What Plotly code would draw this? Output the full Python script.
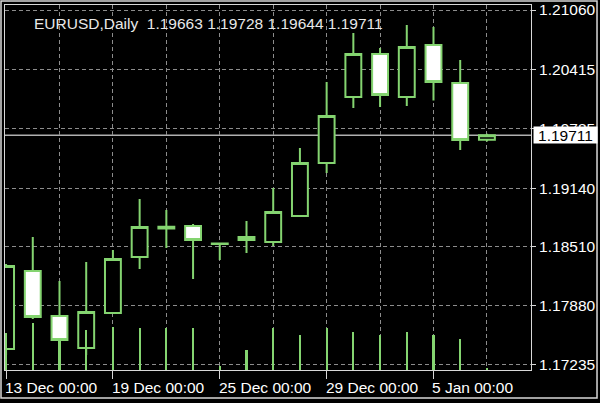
import plotly.graph_objects as go

# ---- data ----
symbol = "EURUSD,Daily"
dates = ["13 Dec", "14 Dec", "15 Dec", "18 Dec", "19 Dec", "20 Dec", "21 Dec", "22 Dec",
         "25 Dec", "26 Dec", "27 Dec", "28 Dec", "29 Dec", "2 Jan", "3 Jan", "4 Jan",
         "5 Jan", "8 Jan", "9 Jan"]
opens = [1.17407, 1.18248, 1.17763, 1.17418, 1.17795, 1.18399, 1.18705, 1.18733,
         1.18545, 1.18582, 1.18560, 1.18840, 1.19411, 1.20123, 1.20586, 1.20123,
         1.20683, 1.20273, 1.19663]
highs = [1.18323, 1.18614, 1.18140, 1.18345, 1.18474, 1.19024, 1.18905, 1.18754,
         1.18556, 1.18786, 1.19142, 1.19573, 1.20284, 1.20812, 1.20651, 1.20898,
         1.20877, 1.20521, 1.19728]
lows = [1.17343, 1.17731, 1.17397, 1.17343, 1.17784, 1.18269, 1.18496, 1.18162,
        1.18366, 1.18442, 1.18517, 1.18830, 1.19304, 1.20004, 1.20015, 1.20026,
        1.20085, 1.19552, 1.19644]
closes = [1.18302, 1.17752, 1.17504, 1.17806, 1.18377, 1.18722, 1.18725, 1.18582,
          1.18539, 1.18614, 1.18883, 1.19411, 1.19918, 1.20586, 1.20144, 1.20661,
          1.20284, 1.19659, 1.19711]
volumes = [37000, 47000, 32000, 40000, 43000, 42000, 42000, 42000, 4000, 20000,
           42000, 35000, 42000, 38000, 35000, 38000, 35000, 31000, 2000]
price_ticks = [1.17235, 1.17880, 1.18510, 1.19140, 1.19785, 1.20415, 1.21060]
time_suffix = "00:00"

# ---- styling ----
GREEN = "#84d470"
GRID = "#8c8c8c"
FRAME = "#d8d8d8"
FONT = "Liberation Sans"
FS = 15.5
n = len(dates)
xs = list(range(n))
label_idx = list(range(0, n, 4))
grid_idx = list(range(2, n, 2))
x_range = [-0.04, 19.65]

fig = go.Figure()
fig.add_trace(go.Candlestick(
    x=xs, open=opens, high=highs, low=lows, close=closes,
    increasing=dict(line=dict(color=GREEN, width=2), fillcolor="#000000"),
    decreasing=dict(line=dict(color=GREEN, width=2), fillcolor="#ffffff"),
    showlegend=False, hoverinfo="skip",
))
fig.add_trace(go.Bar(
    x=xs, y=volumes, xaxis="x2", yaxis="y2", width=0.075,
    marker=dict(color=GREEN, line=dict(width=0)), showlegend=False, hoverinfo="skip",
))

# current price line
fig.add_shape(type="line", xref="paper", yref="y", x0=0, x1=1, y0=closes[-1], y1=closes[-1],
              line=dict(color="#b0b0b0", width=1.5), layer="below")

# outer frame
fig.add_shape(type="rect", xref="paper", yref="paper", x0=-0.0076, x1=1.1255, y0=-0.0767, y1=1.011,
              line=dict(color=FRAME, width=1.5), fillcolor="rgba(0,0,0,0)", layer="above")

# title
title = f"{symbol}\u00a0\u00a0{opens[-1]:.5f} {highs[-1]:.5f} {lows[-1]:.5f} {closes[-1]:.5f}"
fig.add_annotation(text=title, xref="paper", yref="paper", x=0.0513, y=0.978,
                   xanchor="left", yanchor="top", showarrow=False,
                   font=dict(family=FONT, size=FS, color="#e8e8e8"))

# x labels
for i in label_idx:
    fig.add_annotation(text=f"{dates[i]} {time_suffix}", xref="x", yref="paper", x=i, y=-0.02,
                       xanchor="left", yanchor="top", xshift=-3, showarrow=False,
                       font=dict(family=FONT, size=FS, color="#ffffff"))

# price label
fig.add_annotation(text=f"{closes[-1]:.5f}", xref="paper", yref="y", x=1.0038, y=closes[-1],
                   xanchor="left", yanchor="middle", showarrow=False, bgcolor="#ffffff",
                   width=61, height=14, borderpad=1,
                   font=dict(family=FONT, size=FS, color="#000000"))

fig.update_layout(
    width=600, height=403,
    margin=dict(l=5, r=69, t=5, b=33, autoexpand=False),
    paper_bgcolor="#000000", plot_bgcolor="#000000",
    boxgap=0.15,
    xaxis=dict(range=x_range, tickvals=grid_idx, showticklabels=False, ticks="",
               showgrid=True, gridcolor=GRID, griddash="4px,3px", gridwidth=1,
               zeroline=False, showline=True, mirror=True, linecolor=FRAME, linewidth=1,
               rangeslider=dict(visible=False), automargin=False),
    xaxis2=dict(range=x_range, overlaying="x", anchor="y2", tickvals=label_idx,
                showticklabels=False, ticks="outside", ticklen=8, tickcolor=FRAME,
                showgrid=False, zeroline=False, showline=False, automargin=False),
    yaxis=dict(range=[1.17181, 1.21114], side="right", tickvals=price_ticks,
               ticktext=[f"{v:.5f}" for v in price_ticks], ticks="outside", ticklen=4,
               tickcolor=FRAME, showgrid=True, gridcolor=GRID, griddash="4px,3px",
               zeroline=False, showline=True, mirror=True, linecolor=FRAME, linewidth=1,
               automargin=False,
               tickfont=dict(family=FONT, size=FS, color="#ffffff")),
    yaxis2=dict(range=[0, 365000], overlaying="y", visible=False),
    bargap=0,
)

fig.write_html("out.html", config={"displayModeBar": False},
               post_script="document.body.style.margin='0';document.body.style.background='#000';")
